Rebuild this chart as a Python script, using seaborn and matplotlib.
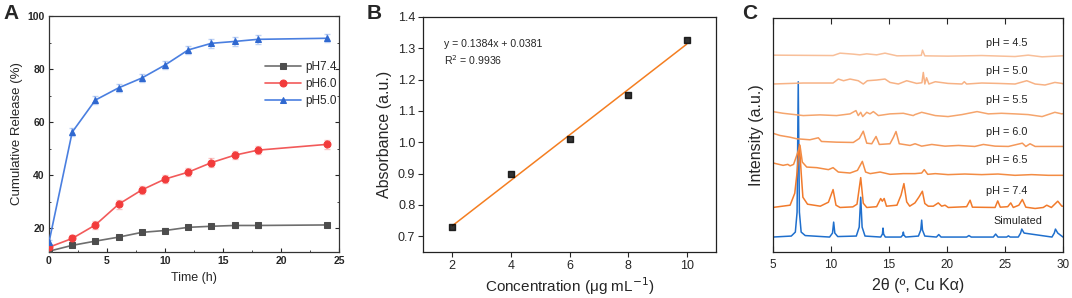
import numpy as np
import pandas as pd
import matplotlib
matplotlib.use("Agg")
import matplotlib.pyplot as plt
import seaborn as sns

sns.set_theme(style="white")
plt.rcParams['font.family'] = ['Liberation Sans', 'DejaVu Sans']

# ---------------- Panel A data ----------------
time_h = [0, 2, 4, 6, 8, 10, 12, 14, 16, 18, 24]
rel_74 = [11.3, 13.5, 15.1, 16.6, 18.4, 19.1, 20.3, 20.7, 21.0, 21.0, 21.2]
rel_60 = [12.8, 16.1, 21.2, 29.0, 34.4, 38.5, 41.1, 44.7, 47.5, 49.4, 51.6]
rel_50 = [14.7, 56.2, 68.3, 72.9, 76.6, 81.5, 87.2, 89.7, 90.4, 91.2, 91.6]
err_74 = [0.6, 0.7, 0.7, 0.8, 0.8, 0.8, 0.8, 0.8, 0.8, 0.8, 0.8]
err_60 = [0.9, 1.4, 1.6, 1.6, 1.6, 1.6, 1.5, 1.6, 1.6, 1.6, 1.6]
err_50 = [1.0, 1.5, 1.6, 1.5, 1.5, 1.5, 1.5, 1.6, 1.6, 1.6, 1.5]
series_names = ["pH7.4", "pH6.0", "pH5.0"]

# ---------------- Panel B data ----------------
conc = [2, 4, 6, 8, 10]
absorb = [0.729, 0.899, 1.010, 1.152, 1.327]
eq_text = "y = 0.1384x + 0.0381\nR$^2$ = 0.9936"

# ---------------- Panel C data (offset traces, arbitrary units) ----------------
sim_x = [5, 6.6, 6.95, 7.1, 7.2, 7.3, 7.45, 7.8, 9.9, 10.15, 10.25, 10.35, 10.6,
         12.2, 12.45, 12.58, 12.7, 12.95, 14.3, 14.45, 14.5, 14.55, 14.7,
         16.05, 16.2, 16.25, 16.3, 16.45, 17.55, 17.75, 17.83, 17.9, 18.1,
         19.1, 19.3, 19.5, 21.7, 21.9, 22.1, 24.0, 24.2, 24.4, 25.15, 25.3, 25.45,
         26.15, 26.35, 26.45, 26.65, 29.05, 29.25, 29.35, 29.55, 30]
sim_y = [15, 16, 20, 40, 171, 40, 20, 16.5, 15, 19, 30, 19, 15.5,
         16, 25, 55, 25, 16, 15, 18, 24, 18, 15,
         15, 17, 20, 17, 15, 16, 22, 32, 22, 16,
         15, 17.5, 15, 15, 16.5, 15, 15, 18, 15, 15, 16.2, 15,
         15, 19, 23, 19, 15, 19, 23, 19, 15]

p74_x = [5, 6.5, 6.9, 7.1, 7.3, 7.45, 7.6, 8.0, 9.1, 9.8, 10.2, 10.45, 10.8, 11.9,
         12.26, 12.58, 12.8, 13.1, 13.95, 14.3, 14.44, 14.6, 14.8, 15.7, 16.05, 16.3,
         16.54, 16.8, 17.25, 17.6, 17.89, 18.1, 18.4, 18.83, 19.26, 19.55, 19.84, 20.12,
         21.7, 22.0, 22.2, 24.15, 24.38, 24.6, 25.24, 25.5, 25.72, 26.2, 26.5, 26.8,
         27.6, 28.3, 28.6, 29.0, 29.55, 29.9, 30]
p74_y = [44.7, 47, 59, 80, 108, 80, 55, 48, 46, 50, 62.7, 47, 44.7, 45.3,
         48, 74.7, 49, 44.7, 45.5, 53.7, 51, 53.7, 46, 47, 57, 68.7,
         50.3, 46, 49.3, 55.3, 61, 48.7, 46, 46, 49.3, 46, 47, 44.7,
         45.5, 52, 45, 44.7, 51.3, 45, 45.5, 49.3, 44.7, 47, 52.7, 45,
         43.7, 44.7, 47, 44.7, 51, 46, 46]

p65_x = [5, 5.9, 6.3, 6.5, 6.8, 7.07, 7.35, 7.55, 7.93, 8.8, 9.8, 10.2, 10.65, 11.66,
         12.3, 12.72, 13.0, 13.4, 14.25, 15.1, 16.25, 17.25, 17.83, 18.05, 18.35, 19.0,
         20.1, 21.55, 23.0, 24.4, 25.87, 27.3, 28.73, 29.9, 30]
p65_y = [89.5, 87, 88, 86.5, 88, 97, 107, 90.3, 85.3, 84.7, 82.7, 84.7, 80.3, 79.3,
         82, 91, 80.3, 78.7, 80.3, 78, 78.7, 78.7, 79.3, 82.7, 78, 78.7,
         77.7, 78.3, 77.7, 78.3, 77, 77.7, 77, 77, 77]

p60_x = [5, 5.63, 6.49, 7.07, 8.2, 8.93, 9.2, 10.5, 11.94, 12.46, 12.8, 13.1, 13.53,
         13.9, 14.18, 15.1, 15.39, 15.62, 15.9, 16.83, 17.26, 17.83, 18.7, 19.84, 21.0,
         22.4, 23.14, 24.15, 25.3, 26.5, 26.8, 27.16, 27.6, 28.73, 29.9, 30]
p60_y = [119.3, 117, 115.3, 113.7, 112.7, 114.7, 111, 110.3, 110, 114, 121.3, 109.3, 108.7,
         116, 108, 108.7, 115, 121, 108.7, 107, 108.7, 106.3, 108, 106.3, 107,
         106, 108, 106.3, 106, 109.3, 106, 108.7, 106, 106, 106, 106]

p55_x = [5, 5.9, 7.63, 9.07, 10.5, 11.66, 12.17, 12.37, 12.58, 12.75, 13.1, 13.38,
         13.67, 14.1, 15.1, 16.25, 17.1, 17.25, 17.83, 19.0, 20.1, 21.3, 22.6, 23.57,
         24.7, 25.87, 27.0, 28.2, 29.3, 29.9, 30]
p55_y = [141, 139.3, 137, 137.7, 137, 138.7, 142, 137, 140.3, 136, 140.3, 138.7,
         141, 137, 138.7, 139.3, 137, 138, 140.3, 137, 136, 138, 141, 138.7,
         139.3, 138.7, 138, 136, 140.3, 138.7, 139]

p50_x = [5, 7.63, 10.2, 10.65, 11.1, 11.66, 12.37, 12.8, 13.15, 13.95, 14.67, 15.1,
         15.82, 16.54, 17.4, 17.85, 17.97, 18.1, 18.25, 18.45, 19.0, 20.1, 21.3, 21.5,
         21.7, 23.0, 24.4, 25.87, 26.88, 27.6, 28.45, 29.3, 29.9, 30]
p50_y = [168.7, 169.7, 169.7, 173.7, 172, 173.7, 172, 168.7, 172, 172.7, 173.7, 170.3,
         168.7, 172, 169.3, 170, 180.3, 168.7, 175, 168.7, 171, 169.3, 168.7, 171,
         168.7, 169.7, 169.3, 168.7, 172, 168.7, 167.7, 170.3, 169.3, 169]

p45_x = [5, 10.2, 10.8, 11.94, 12.5, 13.1, 13.95, 14.67, 15.7, 17.4, 17.8, 17.9,
         18.1, 20.1, 23.0, 25.87, 27.0, 28.2, 29.9, 30]
p45_y = [197.7, 197.3, 199.7, 198.7, 198, 199, 198, 199.7, 197, 197.3, 197.5, 202.7,
         197, 196.7, 197.3, 196.3, 197.7, 196, 197, 197]

xrd_labels = ["pH = 4.5", "pH = 5.0", "pH = 5.5", "pH = 6.0", "pH = 6.5", "pH = 7.4", "Simulated"]

# ---------------- Figure ----------------
fig = plt.figure(figsize=(10.72, 2.98), dpi=100)
axA = fig.add_axes([0.0457, 0.1544, 0.2705, 0.7919])
axB = fig.add_axes([0.3946, 0.1544, 0.2733, 0.7886])
axC = fig.add_axes([0.7208, 0.1544, 0.2708, 0.7852])

# ---- Panel A ----
colsA = ["#4d4d4d", "#f23b3b", "#2f68d0"]
lcolsA = ["#6e6e6e", "#f25a5a", "#4a7fe0"]
markersA = ["s", "o", "^"]
ys = [rel_74, rel_60, rel_50]
errs = [err_74, err_60, err_50]
dfA = pd.DataFrame({
    "t": time_h * 3,
    "r": rel_74 + rel_60 + rel_50,
    "s": sum([[n] * len(time_h) for n in series_names], []),
})
for i, name in enumerate(series_names):
    ax = axA
    ax.errorbar(time_h, ys[i], yerr=errs[i], fmt="none", ecolor=lcolsA[i], alpha=0.35,
                elinewidth=1.2, capsize=2, capthick=1, zorder=1)
    sns.lineplot(data=dfA[dfA.s == name], x="t", y="r", ax=ax, color=lcolsA[i],
                 marker=markersA[i], markersize=5, markerfacecolor=colsA[i],
                 markeredgecolor=colsA[i], linewidth=1.2, label=name, zorder=3)
axA.set_xlim(0, 25)
axA.set_ylim(11, 100)
axA.set_xticks([0, 5, 10, 15, 20, 25])
axA.set_yticks([20, 40, 60, 80, 100])
axA.set_xticks(np.arange(0, 25.1, 2.5), minor=True)
axA.set_yticks(np.arange(20, 101, 10), minor=True)
axA.tick_params(axis="both", which="major", direction="in", length=3, width=0.8,
                labelsize=7.5, right=True, left=True, bottom=True, pad=3)
axA.tick_params(axis="both", which="minor", direction="in", length=1.5, width=0.6,
                right=True, left=True, bottom=True)
for lab in axA.get_xticklabels() + axA.get_yticklabels():
    lab.set_fontweight("bold")
axA.set_xlabel("Time (h)", fontsize=9, labelpad=4)
axA.set_ylabel("Cumulative Release (%)", fontsize=9.5, labelpad=3)
leg = axA.legend(loc="upper left", bbox_to_anchor=(0.73, 0.83), frameon=False,
                 fontsize=8.5, handlelength=3.0, handletextpad=0.35, labelspacing=0.45,
                 borderaxespad=0)
for sp in axA.spines.values():
    sp.set_color("#333333")
    sp.set_linewidth(0.9)

# ---- Panel B ----
dfB = pd.DataFrame({"c": conc, "a": absorb})
sns.regplot(data=dfB, x="c", y="a", ax=axB, ci=None, truncate=True, marker="s",
            scatter_kws=dict(s=20, color="black", zorder=3),
            line_kws=dict(color="#f47e21", linewidth=1.1, zorder=2))
axB.set_xlim(1, 11)
axB.set_ylim(0.65, 1.4)
axB.set_xticks([2, 4, 6, 8, 10])
axB.set_yticks([0.7, 0.8, 0.9, 1.0, 1.1, 1.2, 1.3, 1.4])
axB.yaxis.set_major_formatter(matplotlib.ticker.FormatStrFormatter("%.1f"))
axB.tick_params(axis="both", direction="out", length=3.5, width=0.8, labelsize=9,
                left=True, bottom=True, pad=2)
axB.set_xlabel("Concentration (μg mL$^{-1}$)", fontsize=11, labelpad=3)
axB.set_ylabel("Absorbance (a.u.)", fontsize=11.5, labelpad=4)
axB.text(0.07, 0.905, eq_text, transform=axB.transAxes, fontsize=7.6, va="top",
         ha="left", linespacing=1.3)
for sp in axB.spines.values():
    sp.set_color("#222222")
    sp.set_linewidth(0.9)

# ---- Panel C ----
c_traces = [(sim_x, sim_y, "#1f6fcd"), (p74_x, p74_y, "#f17a2b"),
            (p65_x, p65_y, "#f38c44"), (p60_x, p60_y, "#f4985a"),
            (p55_x, p55_y, "#f5a56d"), (p50_x, p50_y, "#f7b285"),
            (p45_x, p45_y, "#f8bf99")]
for x, y, col in c_traces:
    sns.lineplot(x=x, y=y, ax=axC, color=col, linewidth=1.1, sort=False, estimator=None)
label_y = [210.3, 182, 152.7, 121, 92, 61.3, 31]
for i, t in enumerate(xrd_labels):
    axC.text(25.15 if i < 6 else 26.1, label_y[i], t, ha="center", va="center",
             fontsize=7.8, color="#222222")
axC.set_xlim(5, 30)
axC.set_ylim(0, 235)
axC.set_xticks([5, 10, 15, 20, 25, 30])
axC.set_yticks([])
axC.tick_params(axis="x", direction="in", length=4, width=0.8, labelsize=8.5,
                top=True, bottom=True, pad=5)
axC.set_xlabel("2θ (º, Cu Kα)", fontsize=11.5, labelpad=5)
axC.set_ylabel("Intensity (a.u.)", fontsize=11.5, labelpad=6)
for sp in axC.spines.values():
    sp.set_color("#222222")
    sp.set_linewidth(0.9)

# Panel letters
fig.text(0.003, 0.985, "A", fontsize=15, fontweight="bold", va="top", ha="left")
fig.text(0.342, 0.985, "B", fontsize=15, fontweight="bold", va="top", ha="left")
fig.text(0.692, 0.985, "C", fontsize=15, fontweight="bold", va="top", ha="left")

fig.savefig("out.png", dpi=100)
